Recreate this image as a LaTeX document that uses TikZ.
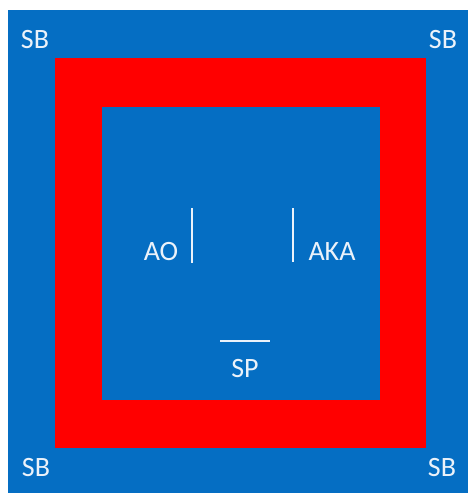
\documentclass[tikz,border=0pt]{standalone}
\usepackage{fontspec}
\setmainfont{Carlito}
\definecolor{sbblue}{RGB}{5,110,195}
\definecolor{sbred}{RGB}{255,0,0}
\definecolor{sbtext}{RGB}{235,242,250}
\begin{document}
\begin{tikzpicture}[x=1pt,y=-1pt,
  lbl/.style={text=sbtext,font=\fontsize{28}{32}\selectfont,inner sep=0pt},
  mark line/.style={draw=sbtext,line width=2pt}]
\useasboundingbox (0,0) rectangle (468,493);
\fill[white] (0,0) rectangle (468,493);
\fill[sbblue] (8,10) rectangle (468,493);
\fill[sbred] (55,58) rectangle (426,448);
\fill[sbblue] (102,107) rectangle (380,400);
\node[lbl] (sbtl) at (35,40) {SB};
\node[lbl] (sbtr) at (443,40) {SB};
\node[lbl] (sbbl) at (36,468) {SB};
\node[lbl] (sbbr) at (442,468) {SB};
\node[lbl] (ao) at (161,252) {AO};
\node[lbl] (aka) at (332,252) {AKA};
\node[lbl] (sp) at (245,369) {SP};
\draw[mark line] (192,208) -- (192,263);
\draw[mark line] (293,208) -- (293,262);
\draw[mark line] (220,341) -- (270,341);
\end{tikzpicture}
\end{document}
